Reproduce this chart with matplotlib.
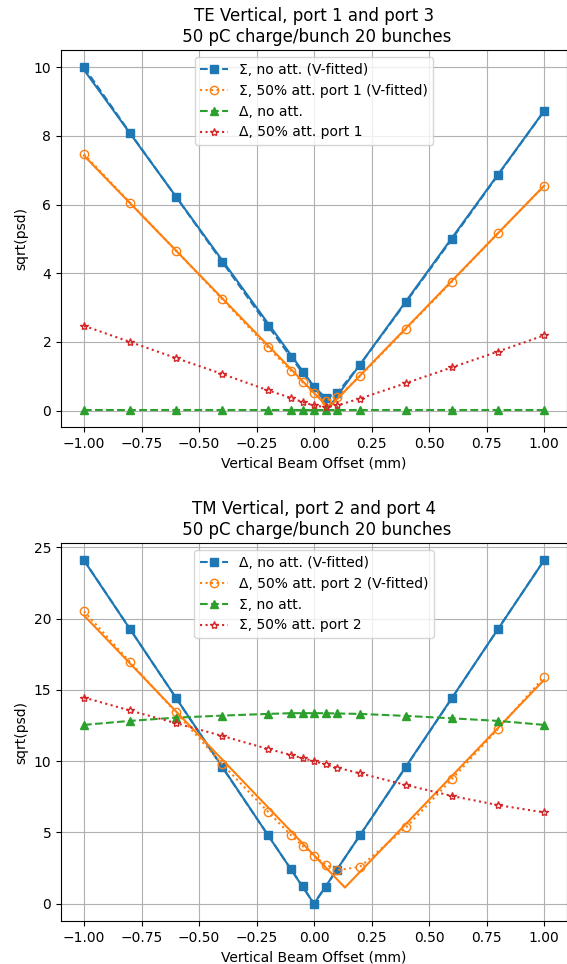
import numpy as np
import matplotlib
matplotlib.use("Agg")
import matplotlib.pyplot as plt

# beam offsets (mm)
offset = [-1.0, -0.8, -0.6, -0.4, -0.2, -0.1, -0.05, 0.0, 0.05, 0.1, 0.2, 0.4, 0.6, 0.8, 1.0]

# TE vertical, port 1 and port 3
te_sum_noatt = [10.0, 8.09, 6.23, 4.34, 2.47, 1.55, 1.11, 0.69, 0.38, 0.50, 1.34, 3.16, 5.00, 6.86, 8.72]
te_sum_att = [7.47, 6.06, 4.66, 3.25, 1.84, 1.16, 0.83, 0.51, 0.29, 0.39, 1.00, 2.38, 3.76, 5.17, 6.54]
te_dif_noatt = [0.02] * 15
te_dif_att = [2.47, 2.00, 1.53, 1.07, 0.59, 0.37, 0.25, 0.15, 0.10, 0.15, 0.35, 0.80, 1.26, 1.72, 2.19]

# TM vertical, port 2 and port 4
tm_dif_noatt = [24.09, 19.27, 14.42, 9.60, 4.80, 2.41, 1.20, 0.0, 1.18, 2.39, 4.80, 9.60, 14.42, 19.27, 24.09]
tm_dif_att = [20.51, 16.95, 13.41, 9.80, 6.44, 4.80, 4.05, 3.33, 2.74, 2.34, 2.58, 5.34, 8.74, 12.26, 15.89]
tm_sum_noatt = [12.54, 12.82, 13.05, 13.19, 13.31, 13.36, 13.36, 13.36, 13.36, 13.34, 13.31, 13.17, 13.00, 12.82, 12.54]
tm_sum_att = [14.46, 13.55, 12.66, 11.77, 10.85, 10.43, 10.20, 10.00, 9.77, 9.54, 9.14, 8.32, 7.55, 6.91, 6.40]


def vfit(x, y):
    # least squares fit of y = a*|x - x0| + b, x0 by grid search
    x = np.asarray(x)
    y = np.asarray(y)
    best = None
    for x0 in np.linspace(-0.3, 0.3, 1201):
        A = np.c_[np.abs(x - x0), np.ones_like(x)]
        coef, res, _, _ = np.linalg.lstsq(A, y, rcond=None)
        r = np.sum((A @ coef - y) ** 2)
        if best is None or r < best[0]:
            best = (r, x0, coef)
    _, x0, (a, b) = best
    xs = np.sort(np.r_[x, x0])
    return xs, a * np.abs(xs - x0) + b


def panel(ax, title, series):
    for y, fmt, color, label, fit in series:
        mfc = 'none' if fmt[-1] in 'o*' else color
        ax.plot(offset, y, fmt, color=color, mfc=mfc, label=label)
        if fit:
            xs, ys = vfit(offset, y)
            ax.plot(xs, ys, '-', color=color)
    ax.set_title(title)
    ax.set_xlabel('Vertical Beam Offset (mm)')
    ax.set_ylabel('sqrt(psd)')
    ax.grid(True)
    ax.legend(loc='upper center')


fig = plt.figure(figsize=(5.67, 9.64), dpi=100)
ax1 = fig.add_axes([0.1076, 0.557, 0.8924, 0.391])
ax2 = fig.add_axes([0.1076, 0.0446, 0.8924, 0.392])

panel(ax1, 'TE Vertical, port 1 and port 3\n 50 pC charge/bunch 20 bunches', [
    (te_sum_noatt, '--s', 'C0', 'Σ, no att. (V-fitted)', True),
    (te_sum_att, ':o', 'C1', 'Σ, 50% att. port 1 (V-fitted)', True),
    (te_dif_noatt, '--^', 'C2', 'Δ, no att.', False),
    (te_dif_att, ':*', 'C3', 'Δ, 50% att. port 1', False),
])

panel(ax2, 'TM Vertical, port 2 and port 4\n 50 pC charge/bunch 20 bunches', [
    (tm_dif_noatt, '--s', 'C0', 'Δ, no att. (V-fitted)', True),
    (tm_dif_att, ':o', 'C1', 'Δ, 50% att. port 2 (V-fitted)', True),
    (tm_sum_noatt, '--^', 'C2', 'Σ, no att.', False),
    (tm_sum_att, ':*', 'C3', 'Σ, 50% att. port 2', False),
])

fig.savefig('out.png', dpi=100)
